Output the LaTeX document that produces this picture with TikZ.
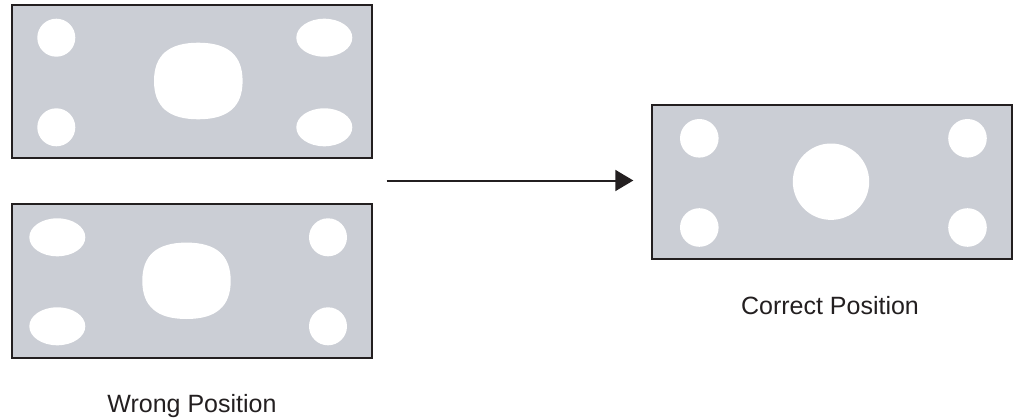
\documentclass[tikz,border=0pt]{standalone}
\usepackage{fontspec}
\setmainfont{Liberation Sans}
\usetikzlibrary{arrows.meta}
\definecolor{panelgray}{RGB}{203,206,213}
\definecolor{inkdark}{RGB}{35,31,32}
\tikzset{
  panel/.style={draw=inkdark, line width=1.7pt, fill=panelgray},
  hole/.style={fill=white, draw=none},
  caption/.style={font=\fontsize{25}{30}\selectfont, text=inkdark, inner sep=0pt, anchor=base},
  flow/.style={draw=inkdark, line width=2pt, -{Triangle[length=18pt,width=21pt]}}
}
\newcommand{\squircle}[4]{% cx cy a b
  \fill[white] (#1+#3,#2) .. controls (#1+#3,#2+0.67*#4) and (#1+0.67*#3,#2+#4) .. (#1,#2+#4)
    .. controls (#1-0.67*#3,#2+#4) and (#1-#3,#2+0.67*#4) .. (#1-#3,#2)
    .. controls (#1-#3,#2-0.67*#4) and (#1-0.67*#3,#2-#4) .. (#1,#2-#4)
    .. controls (#1+0.67*#3,#2-#4) and (#1+#3,#2-0.67*#4) .. (#1+#3,#2) -- cycle;}
\begin{document}
\begin{tikzpicture}[x=1pt,y=-1pt]
\useasboundingbox (0,0) rectangle (1021,420);
% top-left panel
\path[panel] (12.3,4.7) rectangle (372.3,157.7);
\fill[hole] (56.3,37.7) circle (19);
\fill[hole] (56.3,127.3) circle (19);
\fill[hole] (324.3,37.7) ellipse (28 and 19);
\fill[hole] (324.3,127.3) ellipse (28 and 19);
\squircle{198.3}{81}{44.3}{38.3}
% bottom-left panel
\path[panel] (12.3,204.3) rectangle (372.3,357.7);
\fill[hole] (57.3,237.3) ellipse (28 and 19);
\fill[hole] (57.3,326.3) ellipse (28 and 19);
\fill[hole] (328,237.3) circle (19);
\fill[hole] (328,326.3) circle (19);
\squircle{186.5}{280.8}{44.2}{38.2}
% right panel
\path[panel] (651.7,105) rectangle (1011.7,259.3);
\fill[hole] (699.3,138.3) circle (19.3);
\fill[hole] (699.3,227.5) circle (19.3);
\fill[hole] (967.5,138.3) circle (19.3);
\fill[hole] (967.5,227.5) circle (19.3);
\fill[hole] (831,181.7) circle (38.2);
% arrow
\coordinate (astart) at (386.7,180.5);
\coordinate (aend) at (633.3,180.5);
\draw[flow] (astart) -- (aend);
% captions
\node[caption] (correct) at (830,314.3) {Correct Position};
\node[caption] (wrong) at (192,412.7) {Wrong Position};
\end{tikzpicture}
\end{document}
